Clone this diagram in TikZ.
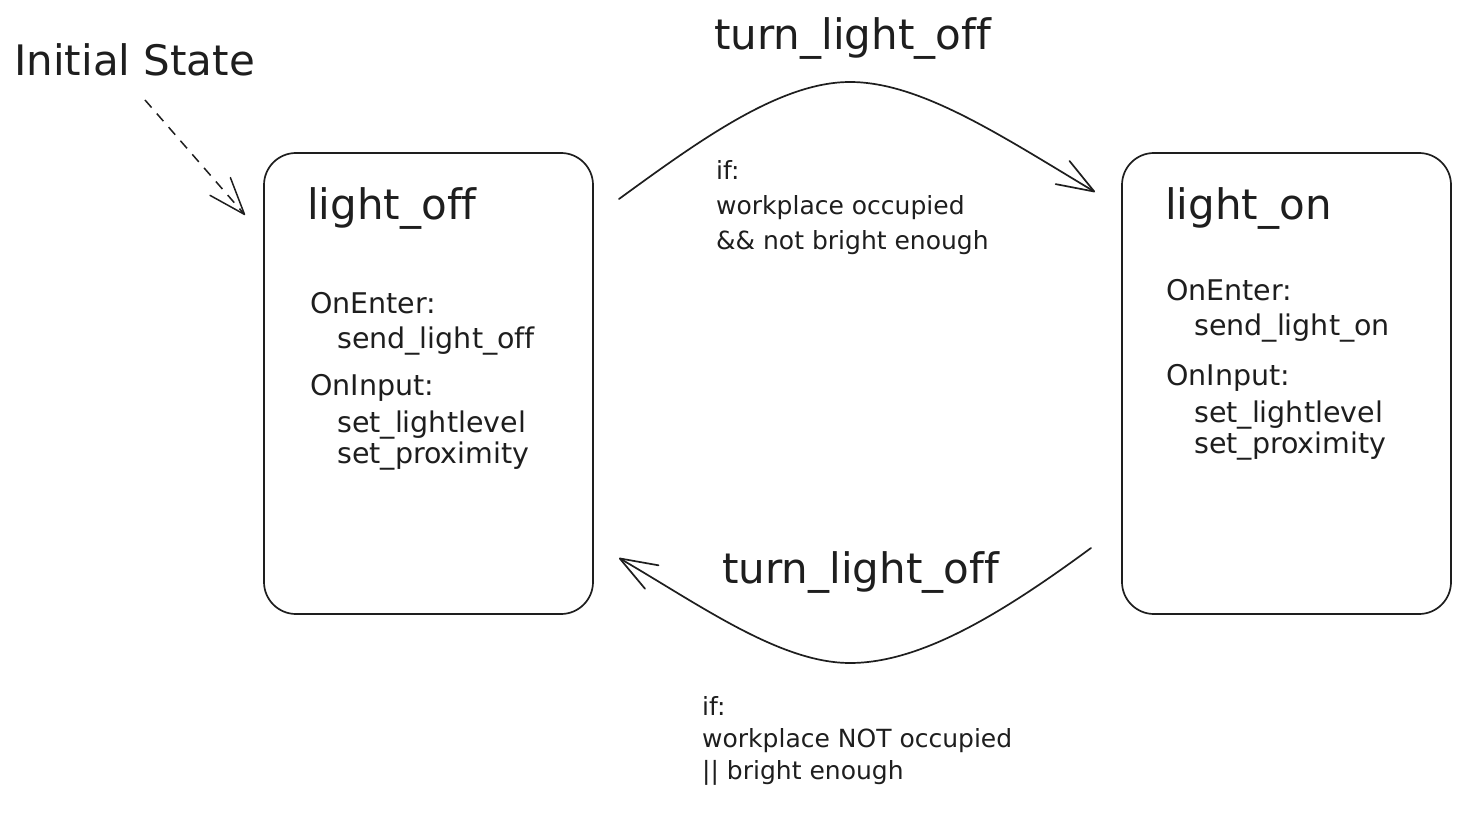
\documentclass[tikz,border=0pt]{standalone}
\usepackage{fontspec}
\setmainfont{DejaVu Sans}[Ligatures=NoCommon]
\usetikzlibrary{arrows.meta}
\definecolor{ink}{HTML}{1E1E1E}
\begin{document}
\begin{tikzpicture}[x=1pt,y=-1pt,
  statebox/.style={draw=ink, line width=1.7pt, rounded corners=32pt,
    minimum width=329pt, minimum height=461pt, inner sep=0pt},
  title/.style={anchor=base west, inner sep=0pt, text=ink, font=\fontsize{42}{50}\selectfont},
  body/.style={anchor=base west, inner sep=0pt, text=ink, font=\fontsize{28.5}{34}\selectfont},
  cond/.style={anchor=base west, inner sep=0pt, text=ink, font=\fontsize{25}{30}\selectfont},
  trans/.style={draw=ink, line width=1.7pt, line cap=round,
    -{Straight Barb[length=37pt,width=27pt,line cap=round,line join=round]}},
  initarrow/.style={draw=ink, line width=1.5pt, dash pattern=on 10pt off 8pt,
    -{Straight Barb[length=37pt,width=27pt,line cap=round,line join=round]}},
]
\fill[white] (0,0) rectangle (1465,813);
\useasboundingbox (0,0) rectangle (1465,813);

% state boxes
\node[statebox] (boff) at (428.5,383.5) {};
\node[statebox] (bon) at (1286.5,383.5) {};

% initial state
\node[title] (init) at (14,76) {Initial State};
\coordinate (initS) at (145,100);
\coordinate (initE) at (245,215);
\draw[initarrow] (initS) -- (initE);

% light_off box content
\node[title] (offT) at (307,220) {light\_off};
\node[body] (offE) at (310,313) {OnEnter:};
\node[body] (offE1) at (337,348) {send\_light\_off};
\node[body] (offI) at (310,395) {OnInput:};
\node[body] (offI1) at (337,432) {set\_lightlevel};
\node[body] (offI2) at (337,463) {set\_proximity};

% light_on box content
\node[title] (onT) at (1165,220) {light\_on};
\node[body] (onE) at (1166,300) {OnEnter:};
\node[body] (onE1) at (1194,335) {send\_light\_on};
\node[body] (onI) at (1166,385) {OnInput:};
\node[body] (onI1) at (1194,422) {set\_lightlevel};
\node[body] (onI2) at (1194,453) {set\_proximity};

% top transition
\coordinate (tS) at (619,199);
\coordinate (tE) at (1095,192);
\draw[trans] (tS) .. controls (700,140) and (780,82) .. (850,82)
  .. controls (920,82) and (1000,135) .. (tE);
\node[title] (tL) at (714,50) {turn\_light\_off};
\node[cond] (tC1) at (716,180) {if:};
\node[cond] (tC2) at (716,215) {workplace occupied};
\node[cond] (tC3) at (716,250) {\&\& not bright enough};

% bottom transition
\coordinate (bS) at (1091,548);
\coordinate (bE) at (619,558);
\draw[trans] (bS) .. controls (1000,615) and (920,663) .. (850,663)
  .. controls (780,663) and (700,605) .. (bE);
\node[title] (bL) at (722,583) {turn\_light\_off};
\node[cond] (bC1) at (702,715) {if:};
\node[cond] (bC2) at (702,747) {workplace NOT occupied};
\node[cond] (bC3) at (702,779) {\textbar\textbar{} bright enough};
\end{tikzpicture}
\end{document}
